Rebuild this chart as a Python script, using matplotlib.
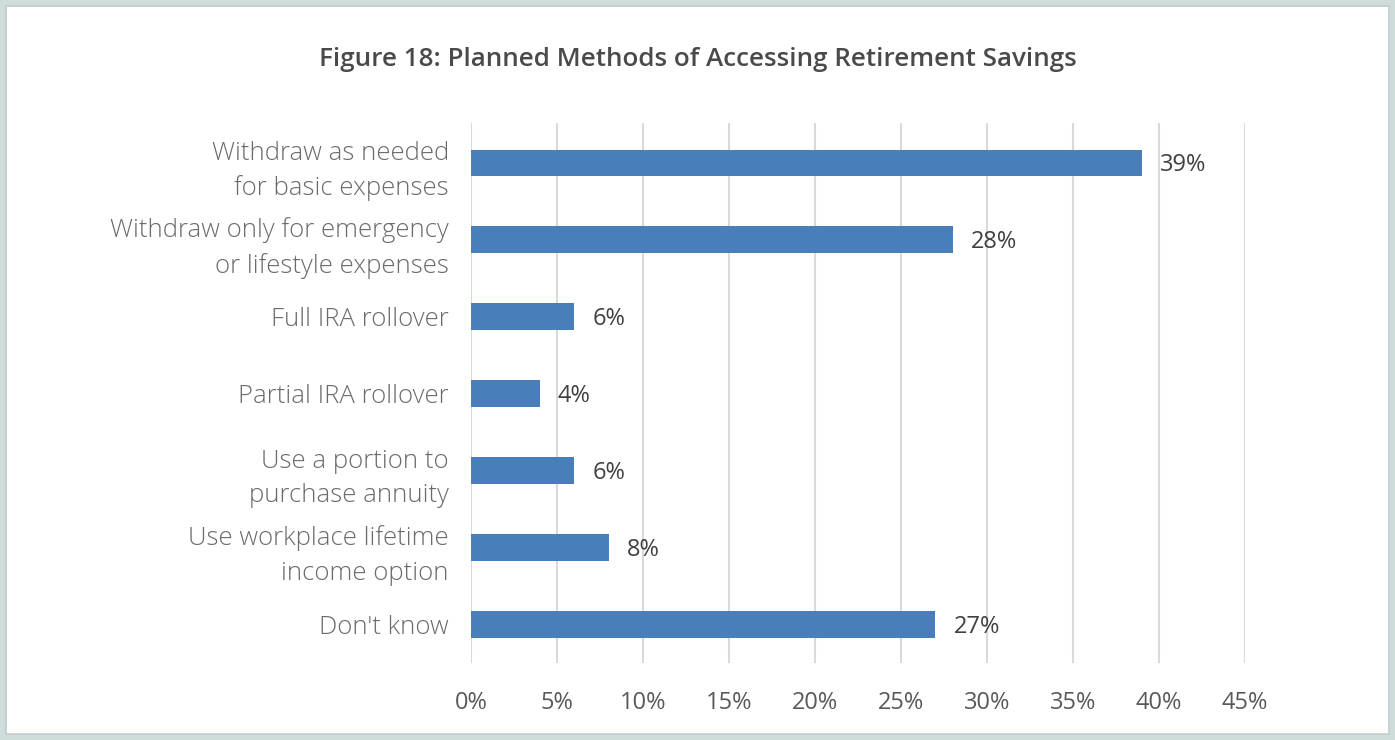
import numpy as np
import matplotlib.pyplot as plt
from matplotlib.patches import Rectangle

# survey answers, top to bottom
methods = ['Withdraw as needed\nfor basic expenses',
           'Withdraw only for emergency\nor lifestyle expenses',
           'Full IRA rollover',
           'Partial IRA rollover',
           'Use a portion to\npurchase annuity',
           'Use workplace lifetime\nincome option',
           "Don't know"]
shares = [39, 28, 6, 4, 6, 8, 27]
ticks = [0, 5, 10, 15, 20, 25, 30, 35, 40, 45]

fig = plt.figure(figsize=(13.95, 7.40), dpi=100)

# frame around the figure
fig.patches.append(Rectangle((0, 0), 1, 1, transform=fig.transFigure,
                             fill=False, edgecolor='#cfdcdc', linewidth=9))
fig.patches.append(Rectangle((6/1395, 6/740), 1-12/1395, 1-12/740, transform=fig.transFigure,
                             fill=False, edgecolor='#c3cccc', linewidth=1.2))

fig.text(0.5, 1-60/740, 'Figure 18: Planned Methods of Accessing Retirement Savings',
         ha='center', va='center', fontsize=18.7, color='#4a4a4a',
         family='Open Sans', fontweight='semibold')

ax = fig.add_axes([471/1395, 1-663/740, 774/1395, 540/740])
y = np.arange(len(methods))
ax.barh(y, shares, height=0.35, color='#4a7ebb', zorder=3)
for yi, v in zip(y, shares):
    ax.text(v + 1.05, yi + 0.03, f'{v}%', va='center', ha='left', fontsize=17,
            color='#404040', family='Open Sans')

ax.set_xlim(0, 45)
ax.set_ylim(6.5, -0.52)
ax.set_xticks(ticks)
ax.set_xticklabels([f'{t}%' for t in ticks], fontsize=17, color='#595959', family='Open Sans')
ax.set_yticks(y)
ax.set_yticklabels(methods, fontsize=18.5, color='#6b6b6b', family='Open Sans',
                   fontweight='light', linespacing=1.5, ha='right')
ax.tick_params(axis='x', length=0, pad=20)
ax.tick_params(axis='y', length=0, pad=16)
ax.grid(axis='x', color='#d9d9d9', linewidth=1.5, zorder=0)
for s in ax.spines.values():
    s.set_visible(False)

fig.savefig('out.png', dpi=100)
